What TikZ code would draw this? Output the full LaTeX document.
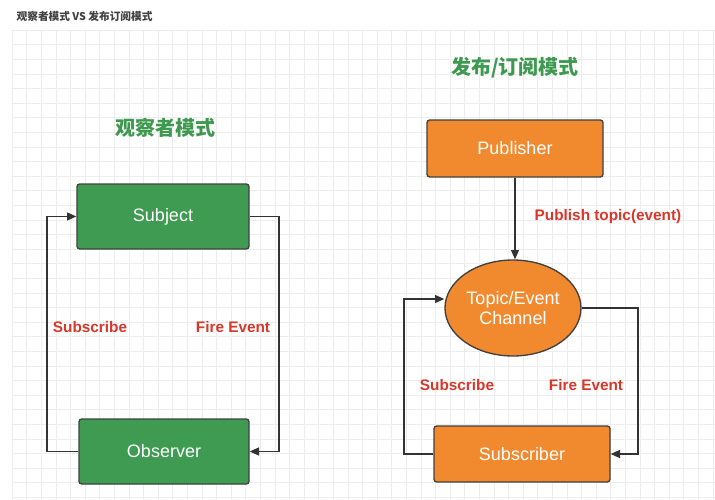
\documentclass[tikz,border=0pt]{standalone}
\usepackage{fontspec}
\setmainfont{Liberation Sans}
\newfontfamily\cjk{Noto Sans CJK SC}
\usetikzlibrary{shapes.geometric,arrows.meta}
\definecolor{gfill}{HTML}{3F9A52}
\definecolor{ofill}{HTML}{F18A2E}
\definecolor{gtxt}{HTML}{3E9950}
\definecolor{rtxt}{HTML}{D8372A}
\begin{document}
\begin{tikzpicture}[x=0.75pt,y=-0.75pt,
 box/.style={draw=black!75,line width=1pt,rounded corners=2pt,text=white,font=\fontsize{13.5}{15}\selectfont},
 gbox/.style={box,fill=gfill},
 obox/.style={box,fill=ofill},
 conn/.style={draw=black!80,line width=0.9pt,-{Triangle[length=7pt,width=6pt]}},
 lab/.style={text=rtxt,font=\bfseries\fontsize{11.5}{13}\selectfont},
 head/.style={text=gtxt,font=\cjk\bfseries\fontsize{15}{17}\selectfont}]
\useasboundingbox (0,0) rectangle (715,500);
\fill[white] (0,0) rectangle (715,500);
\foreach \i in {0,...,48} \draw[black!7,line width=0.4pt] (12+\i*14.6,30) -- (12+\i*14.6,500);
\foreach \j in {0,...,32} \draw[black!7,line width=0.4pt] (12,30+\j*14.6) -- (715,30+\j*14.6);
\node[anchor=west,text=black!75,font=\cjk\bfseries\fontsize{8}{10}\selectfont] (t) at (12,16) {观察者模式 VS 发布订阅模式};
\node[head] (h1) at (165,128) {观察者模式};
\node[head] (h2) at (515,68) {发布/订阅模式};
\node[gbox,minimum width=129pt,minimum height=48.75pt] (sub) at (163,216.5) {Subject};
\node[gbox,minimum width=127.5pt,minimum height=48.75pt] (obs) at (164,451.5) {Observer};
\coordinate (l1) at (47,451.5); \coordinate (l2) at (47,216.5);
\coordinate (r1) at (279,216.5); \coordinate (r2) at (279,451.5);
\draw[conn] (obs.west) -- (l1) -- (l2) -- (sub.west);
\draw[conn] (sub.east) -- (r1) -- (r2) -- (obs.east);
\node[lab] (s1) at (90,327) {Subscribe};
\node[lab] (f1) at (233,327) {Fire Event};
\node[obox,minimum width=132pt,minimum height=42.75pt] (pub) at (515,148.5) {Publisher};
\node[obox,ellipse,minimum width=102pt,minimum height=72pt,align=center,inner sep=0pt] (ch) at (513,308) {Topic/Event\\Channel};
\node[obox,minimum width=132pt,minimum height=42pt] (sbr) at (522,454) {Subscriber};
\draw[conn] (pub.south) -- (pub.south |- ch.north);
\node[lab] (pt) at (608,217) {Publish topic(event)};
\coordinate (a1) at (404,454); \coordinate (a2) at (404,299);
\coordinate (b2) at (638,308); \coordinate (b3) at (638,454);
\draw[conn] (sbr.west) -- (a1) -- (a2) -- (ch.west |- a2);
\draw[conn] (ch.east) -- (b2) -- (b3) -- (sbr.east);
\node[lab] (s2) at (457,385) {Subscribe};
\node[lab] (f2) at (586,385) {Fire Event};
\end{tikzpicture}
\end{document}
